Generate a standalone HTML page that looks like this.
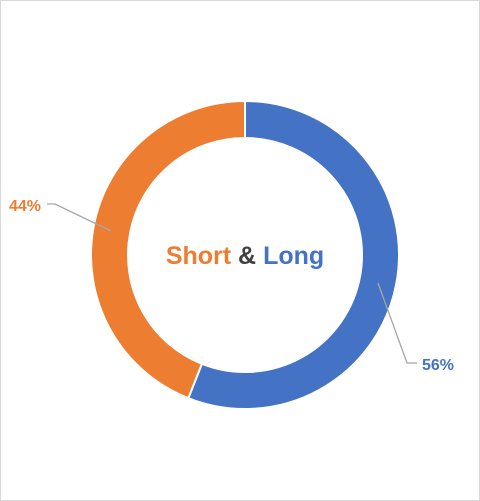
<!DOCTYPE html>
<html><head><meta charset="utf-8"><style>
html,body{margin:0;padding:0;background:#fff}
#wrap{position:relative;width:478px;height:499px;border:1px solid #d9d9d9;background:#fff}
svg{position:absolute;left:0;top:0}
</style></head><body>
<div id="wrap">
<svg id="chart" width="478" height="499"></svg>
</div>
<script>
const categories = ["Long","Short"];
const values = [56,44];
const labels = ["56%","44%"];
const colors = ["#4472c4","#ed7d31"];
const svg = document.getElementById('chart');
const NS = 'http://www.w3.org/2000/svg';
const cx = 244, cy = 254, R = 154, r = 117;
const total = values.reduce((a,b)=>a+b,0);
function pt(a, rad){ return [cx + rad*Math.sin(a), cy - rad*Math.cos(a)]; }
let start = 0;
values.forEach((v,i)=>{
  const end = start + v/total*2*Math.PI;
  const large = (end-start) > Math.PI ? 1 : 0;
  const [x1,y1]=pt(start,R),[x2,y2]=pt(end,R),[x3,y3]=pt(end,r),[x4,y4]=pt(start,r);
  const p = document.createElementNS(NS,'path');
  p.setAttribute('d',`M${x1},${y1}A${R},${R} 0 ${large} 1 ${x2},${y2}L${x3},${y3}A${r},${r} 0 ${large} 0 ${x4},${y4}Z`);
  p.setAttribute('fill',colors[i]);
  p.setAttribute('stroke','#fff');
  p.setAttribute('stroke-width','2');
  
  
  svg.appendChild(p);
  start = end;
});
function line(pts, name){
  const l = document.createElementNS(NS,'polyline');
  l.setAttribute('points', pts.map(p=>p.join(',')).join(' '));
  l.setAttribute('fill','none'); l.setAttribute('stroke','#a6a6a6'); l.setAttribute('stroke-width','1.3');
  
  
  svg.appendChild(l);
}
line([[377,282],[406,362],[416,362]], 'leader-line-long');
line([[110,230],[54,203],[46,203]], 'leader-line-short');
function text(x,y,s,c,anchor,name){
  const t=document.createElementNS(NS,'text');
  t.setAttribute('x',x);t.setAttribute('y',y);t.setAttribute('fill',c);
  t.setAttribute('text-anchor',anchor);
  t.setAttribute('font-family','"Liberation Sans", sans-serif');
  t.setAttribute('font-size','16');t.setAttribute('font-weight','bold');
  t.textContent=s;
  
  
  svg.appendChild(t);
}
text(421,369,labels[0],colors[0],'start','data-label-long');
text(40,210,labels[1],colors[1],'end','data-label-short');
const title=document.createElementNS(NS,'text');
title.setAttribute('x',cx);title.setAttribute('y',263);
title.setAttribute('text-anchor','middle');
title.setAttribute('font-family','"Liberation Sans", sans-serif');
title.setAttribute('font-size','25');title.setAttribute('font-weight','bold');
title.innerHTML='<tspan fill="#ed7d31">Short</tspan><tspan fill="#404040"> &amp; </tspan><tspan fill="#4472c4">Long</tspan>';


svg.appendChild(title);
</script>
</body></html>
